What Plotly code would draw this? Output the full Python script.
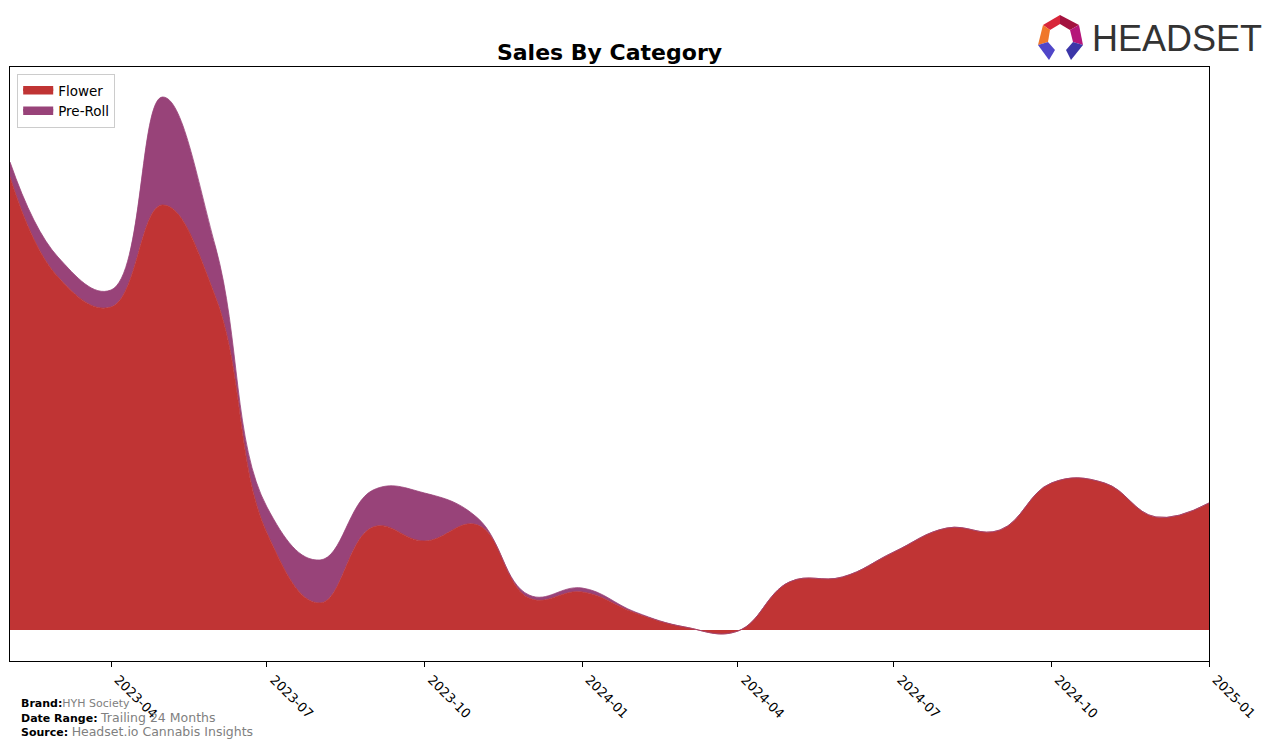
import plotly.graph_objects as go

# ---- data (monthly, relative sales units) ----
months = ["2023-02-01", "2023-03-01", "2023-04-01", "2023-05-01", "2023-06-01", "2023-07-01",
          "2023-08-01", "2023-09-01", "2023-10-01", "2023-11-01", "2023-12-01", "2024-01-01",
          "2024-02-01", "2024-03-01", "2024-04-01", "2024-05-01", "2024-06-01", "2024-07-01",
          "2024-08-01", "2024-09-01", "2024-10-01", "2024-11-01", "2024-12-01", "2025-01-01"]
flower = [453, 353, 323, 425, 333, 97, 27, 103, 89, 105, 32, 38,
          17, 3, -1, 48, 53, 78, 102, 100, 147, 147, 113, 127]
preroll = [15, 20, 17, 108, 50, 26, 43, 37, 48, 7, 3, 4,
           1, 0, 0, 0, 0, 0, 0, 0, 0, 0, 0, 0]
tick_vals = ["2023-04-01", "2023-07-01", "2023-10-01", "2024-01-01",
             "2024-04-01", "2024-07-01", "2024-10-01", "2025-01-01"]
tick_text = ["2023-04", "2023-07", "2023-10", "2024-01", "2024-04", "2024-07", "2024-10", "2025-01"]

FLOWER_C = "#C03434"
PREROLL_C = "#984379"

SW, SH = 1276, 748          # screen size
OFF = 8                      # default page body margin
W, H = SW - OFF, SH - OFF    # figure size
L, R, T, B = 10, 1209, 67, 661   # plot area in screen pixels

fig = go.Figure()
fig.add_trace(go.Scatter(x=months, y=flower, name="Flower", stackgroup="one",
                         mode="lines", line=dict(color=FLOWER_C, width=0.8, shape="spline", smoothing=1.2),
                         fillcolor=FLOWER_C))
fig.add_trace(go.Scatter(x=months, y=preroll, name="Pre-Roll", stackgroup="one",
                         mode="lines", line=dict(color=PREROLL_C, width=0.8, shape="spline", smoothing=1.2),
                         fillcolor=PREROLL_C))


def px2paper(x, y):
    return (x - L) / (R - L), (B - y) / (B - T)


def poly(points, color):
    pts = [px2paper(x, y) for x, y in points]
    d = "M " + " L ".join(f"{a:.5f},{b:.5f}" for a, b in pts) + " Z"
    return dict(type="path", xref="paper", yref="paper", path=d,
                fillcolor=color, line=dict(width=0), layer="above")


shapes = [
    poly([(1043, 25), (1060, 15), (1060, 24), (1050, 30)], "#D8263A"),
    poly([(1060, 15), (1079, 25), (1070, 30), (1060, 24)], "#A3123F"),
    poly([(1079, 25), (1083, 45), (1073, 42), (1070, 30)], "#B5177A"),
    poly([(1043, 25), (1050, 30), (1048, 42), (1038, 45)], "#F0772A"),
    poly([(1038, 45), (1048, 42), (1055, 50), (1049, 60)], "#5046C8"),
    poly([(1083, 45), (1073, 42), (1066, 50), (1071, 60)], "#3B36A8"),
]

annotations = [
    dict(text="HEADSET", xref="paper", yref="paper",
         x=px2paper(1090, 0)[0], y=px2paper(0, 39)[1], xanchor="left", yanchor="middle",
         showarrow=False, font=dict(family="Liberation Sans, Arial, sans-serif", size=36, color="#333333")),
    dict(text="<b>Brand:</b><span style='color:#808080'>HYH Society</span>",
         xref="paper", yref="paper", x=px2paper(19, 0)[0], y=px2paper(0, 703)[1],
         xanchor="left", yanchor="middle", showarrow=False,
         font=dict(family="DejaVu Sans", size=11, color="black")),
    dict(text="<b>Date Range:</b> <span style='color:#808080;font-size:12.5px'>Trailing 24 Months</span>",
         xref="paper", yref="paper", x=px2paper(19, 0)[0], y=px2paper(0, 717)[1],
         xanchor="left", yanchor="middle", showarrow=False,
         font=dict(family="DejaVu Sans", size=11, color="black")),
    dict(text="<b>Source:</b> <span style='color:#808080;font-size:12.5px'>Headset.io Cannabis Insights</span>",
         xref="paper", yref="paper", x=px2paper(19, 0)[0], y=px2paper(0, 731)[1],
         xanchor="left", yanchor="middle", showarrow=False,
         font=dict(family="DejaVu Sans", size=11, color="black")),
]

fig.update_layout(
    width=W, height=H,
    margin=dict(l=L - OFF, r=SW - R, t=T - OFF, b=SH - B, pad=0),
    paper_bgcolor="white", plot_bgcolor="white",
    title=dict(text="<b>Sales By Category</b>", x=((L + R) / 2 - OFF) / W, xanchor="center",
               y=1 - (52 - OFF) / H, yanchor="middle",
               font=dict(family="DejaVu Sans", size=22, color="black")),
    showlegend=True,
    legend=dict(x=0.006, y=0.988, xanchor="left", yanchor="top",
                bgcolor="rgba(255,255,255,0.8)", bordercolor="#CCCCCC", borderwidth=1,
                font=dict(family="DejaVu Sans", size=13.5, color="black"),
                traceorder="normal", itemsizing="constant"),
    shapes=shapes,
    annotations=annotations,
    font=dict(family="DejaVu Sans"),
)
fig.update_xaxes(type="date", range=["2023-02-01", "2025-01-01"],
                 tickvals=tick_vals, ticktext=tick_text, tickangle=45,
                 ticks="outside", ticklen=5, tickcolor="black", tickwidth=1,
                 ticklabelshift=7,
                 tickfont=dict(family="DejaVu Sans", size=13, color="black"),
                 showline=True, linecolor="black", linewidth=1, mirror=True,
                 showgrid=False, zeroline=False)
fig.update_yaxes(range=[-31, 563], showticklabels=False, ticks="",
                 showline=True, linecolor="black", linewidth=1, mirror=True,
                 showgrid=False, zeroline=False)

fig.write_html("out.html")
